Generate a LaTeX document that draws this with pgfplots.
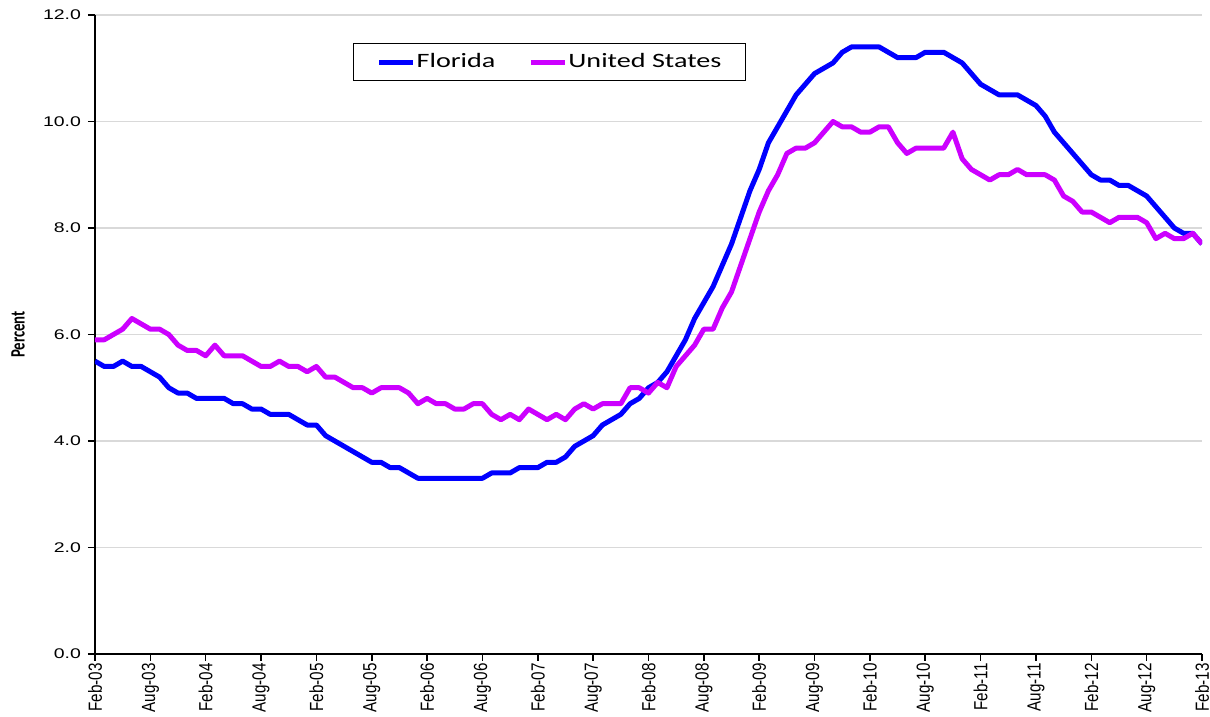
\documentclass[border=0pt]{standalone}
\usepackage{fontspec}
\usepackage{graphicx}
\usepackage{pgfplots}
\usepackage{pgfplotstable}
\pgfplotsset{compat=1.18}
\setmainfont{Liberation Sans}
\newfontfamily\arialw[FakeStretch=1.39]{Liberation Sans}
\newfontfamily\calw[FakeStretch=1.38]{Carlito}
\newfontfamily\carl{Carlito}
\definecolor{flc}{RGB}{0,0,255}
\definecolor{usc}{RGB}{204,0,255}
\definecolor{gridc}{RGB}{217,217,217}
\newcommand\xl[1]{\scalebox{1}[1.25]{#1}}

\pgfplotstableread{
idx fl us
0 5.5 5.9
1 5.4 5.9
2 5.4 6.0
3 5.5 6.1
4 5.4 6.3
5 5.4 6.2
6 5.3 6.1
7 5.2 6.1
8 5.0 6.0
9 4.9 5.8
10 4.9 5.7
11 4.8 5.7
12 4.8 5.6
13 4.8 5.8
14 4.8 5.6
15 4.7 5.6
16 4.7 5.6
17 4.6 5.5
18 4.6 5.4
19 4.5 5.4
20 4.5 5.5
21 4.5 5.4
22 4.4 5.4
23 4.3 5.3
24 4.3 5.4
25 4.1 5.2
26 4.0 5.2
27 3.9 5.1
28 3.8 5.0
29 3.7 5.0
30 3.6 4.9
31 3.6 5.0
32 3.5 5.0
33 3.5 5.0
34 3.4 4.9
35 3.3 4.7
36 3.3 4.8
37 3.3 4.7
38 3.3 4.7
39 3.3 4.6
40 3.3 4.6
41 3.3 4.7
42 3.3 4.7
43 3.4 4.5
44 3.4 4.4
45 3.4 4.5
46 3.5 4.4
47 3.5 4.6
48 3.5 4.5
49 3.6 4.4
50 3.6 4.5
51 3.7 4.4
52 3.9 4.6
53 4.0 4.7
54 4.1 4.6
55 4.3 4.7
56 4.4 4.7
57 4.5 4.7
58 4.7 5.0
59 4.8 5.0
60 5.0 4.9
61 5.1 5.1
62 5.3 5.0
63 5.6 5.4
64 5.9 5.6
65 6.3 5.8
66 6.6 6.1
67 6.9 6.1
68 7.3 6.5
69 7.7 6.8
70 8.2 7.3
71 8.7 7.8
72 9.1 8.3
73 9.6 8.7
74 9.9 9.0
75 10.2 9.4
76 10.5 9.5
77 10.7 9.5
78 10.9 9.6
79 11.0 9.8
80 11.1 10.0
81 11.3 9.9
82 11.4 9.9
83 11.4 9.8
84 11.4 9.8
85 11.4 9.9
86 11.3 9.9
87 11.2 9.6
88 11.2 9.4
89 11.2 9.5
90 11.3 9.5
91 11.3 9.5
92 11.3 9.5
93 11.2 9.8
94 11.1 9.3
95 10.9 9.1
96 10.7 9.0
97 10.6 8.9
98 10.5 9.0
99 10.5 9.0
100 10.5 9.1
101 10.4 9.0
102 10.3 9.0
103 10.1 9.0
104 9.8 8.9
105 9.6 8.6
106 9.4 8.5
107 9.2 8.3
108 9.0 8.3
109 8.9 8.2
110 8.9 8.1
111 8.8 8.2
112 8.8 8.2
113 8.7 8.2
114 8.6 8.1
115 8.4 7.8
116 8.2 7.9
117 8.0 7.8
118 7.9 7.8
119 7.9 7.9
120 7.7 7.7
}\data

\begin{document}
\begin{tikzpicture}
\begin{axis}[
  at={(0,0)}, anchor=south west,
  scale only axis, width=553.5pt, height=319.5pt,
  xmin=0, xmax=120, ymin=0, ymax=12,
  axis x line=bottom, axis y line=left,
  axis line style={-, line width=1pt, black},
  xtick={0,6,...,120},
  xticklabels={\xl{Feb-03},\xl{Aug-03},\xl{Feb-04},\xl{Aug-04},\xl{Feb-05},\xl{Aug-05},\xl{Feb-06},\xl{Aug-06},\xl{Feb-07},\xl{Aug-07},\xl{Feb-08},\xl{Aug-08},\xl{Feb-09},\xl{Aug-09},\xl{Feb-10},\xl{Aug-10},\xl{Feb-11},\xl{Aug-11},\xl{Feb-12},\xl{Aug-12},\xl{Feb-13}},
  xticklabel style={rotate=90, anchor=east, font=\fontsize{7.6}{8}\selectfont, inner xsep=1pt, inner ysep=0pt},
  ytick={0,2,...,12},
  yticklabels={0.0,2.0,4.0,6.0,8.0,10.0,12.0},
  yticklabel style={font=\arialw\fontsize{7}{8}\selectfont},
  tick style={black, line width=0.8pt},
  tick align=outside, major tick length=3.5pt,
  ymajorgrids, grid style={gridc, line width=0.8pt},
  ylabel={\scalebox{1}[1.38]{\carl\bfseries\fontsize{7.4}{9}\selectfont Percent}},
  every axis y label/.style={at={(axis description cs:-0.0696,0.5)}, anchor=center, rotate=90},
  legend style={at={(0.2331,0.9562)}, anchor=north west, draw=black, line width=0.6pt,
    legend columns=2, font=\calw\fontsize{10.2}{12}\selectfont,
    inner xsep=11.5pt, inner ysep=3pt,
    nodes={inner xsep=0.5pt, inner ysep=2pt},
    /tikz/every even column/.append style={column sep=16pt}},
  legend image code/.code={\draw[#1, line width=2.5pt] (0pt,0pt) -- (17pt,0pt);},
]
\addplot[flc, line width=2.5pt, line join=round] table[x=idx, y=fl]{\data};
\addlegendentry{Florida}
\addplot[usc, line width=2.5pt, line join=round] table[x=idx, y=us]{\data};
\addlegendentry{United States}
\end{axis}
\pgfresetboundingbox
\path[use as bounding box] (-47.5pt,-31.5pt) rectangle (557.5pt,327pt);
\end{tikzpicture}
\end{document}
